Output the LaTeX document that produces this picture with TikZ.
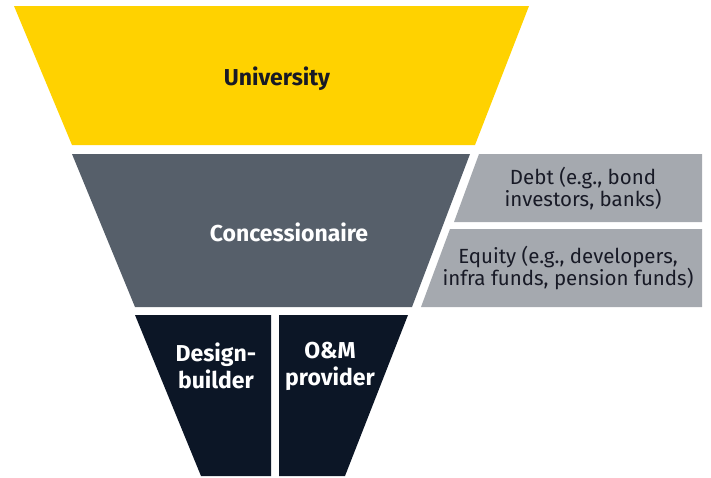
\documentclass[tikz,border=0pt]{standalone}
\usepackage{fontspec}
\setmainfont{Fira Sans}
\definecolor{funnelyellow}{RGB}{255,210,0}
\definecolor{funnelslate}{RGB}{86,95,106}
\definecolor{funnelnavy}{RGB}{12,22,38}
\definecolor{sidegrey}{RGB}{165,169,175}
\definecolor{inkdark}{RGB}{24,26,38}
\tikzset{
  tierlabel/.style={font=\bfseries\fontsize{23}{27}\selectfont, align=center, inner sep=0pt},
  sidelabel/.style={font=\fontsize{20.5}{22}\selectfont, text=inkdark, align=center, inner sep=0pt},
}
\begin{document}
\begin{tikzpicture}[x=1pt,y=-1pt]
\useasboundingbox (0,0) rectangle (711,477);

% funnel tiers
\fill[funnelyellow] (14,6) -- (529,6) -- (475,145) -- (72,145) -- cycle;
\fill[funnelslate] (72,154) -- (470,154) -- (412,307) -- (135,307) -- cycle;
\fill[funnelnavy] (135,315) -- (271,315) -- (271,476) -- (201,476) -- cycle;
\fill[funnelnavy] (279,315) -- (408,315) -- (345,476) -- (279,476) -- cycle;

% financing boxes beside the concessionaire
\fill[sidegrey] (479,154) -- (702,154) -- (702,222) -- (454,222) -- cycle;
\fill[sidegrey] (450,229) -- (702,229) -- (702,307) -- (421,307) -- cycle;

% labels
\node[tierlabel, text=inkdark, anchor=base] (univ) at (277,85) {University};
\node[tierlabel, text=white, anchor=base] (conc) at (289,241) {Concessionaire};
\node[tierlabel, text=white] (db) at (216,366) {Design-\\builder};
\node[tierlabel, text=white] (om) at (330,366) {O\&M\\provider};
\node[sidelabel] (debt) at (583,189) {Debt (e.g., bond\\investors, banks)};
\node[sidelabel] (equity) at (568,268) {Equity (e.g., developers,\\infra funds, pension funds)};
\end{tikzpicture}
\end{document}
